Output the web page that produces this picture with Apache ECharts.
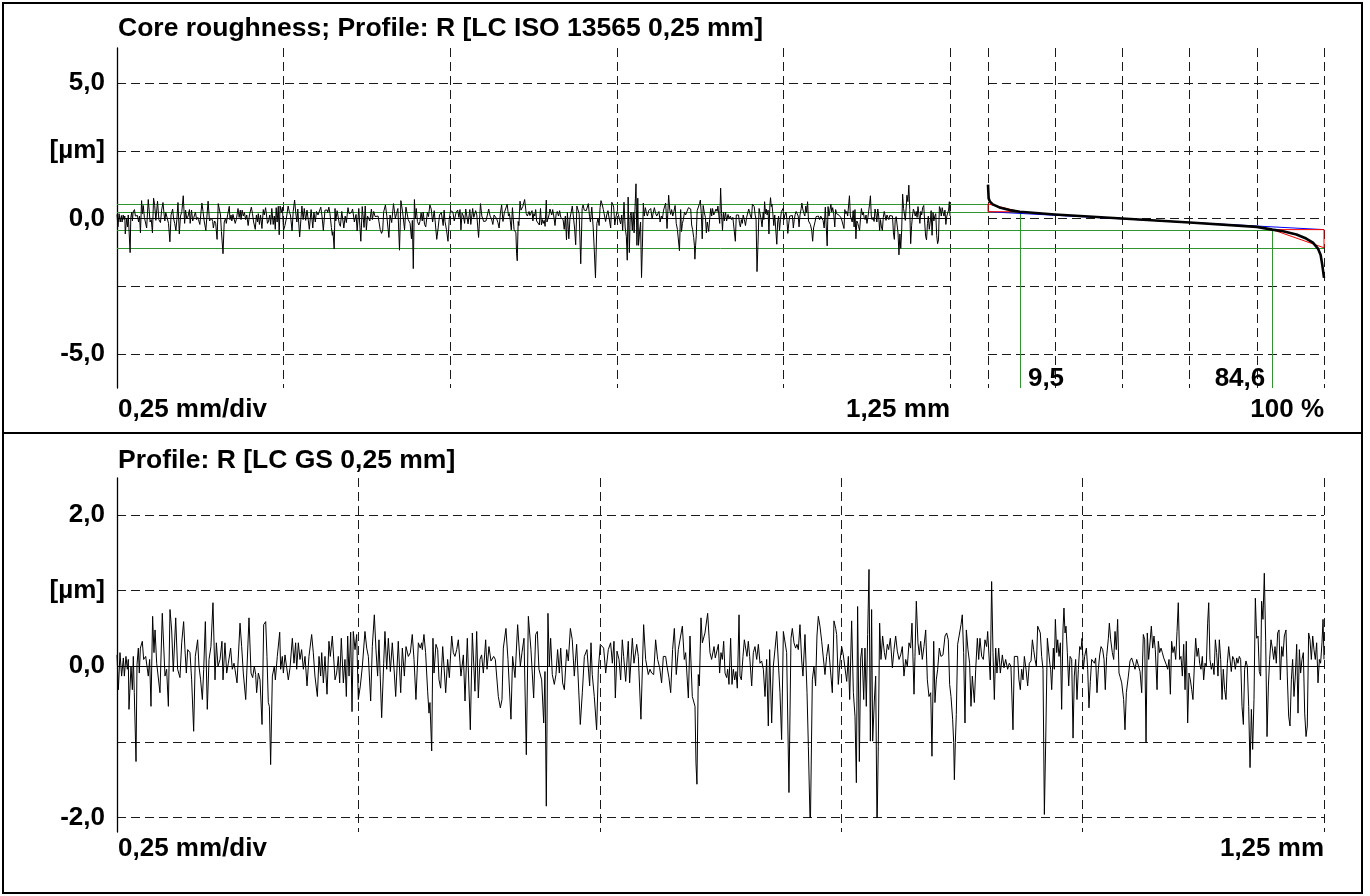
<!DOCTYPE html>
<html>
<head>
<meta charset="utf-8">
<script src="https://cdn.jsdelivr.net/npm/echarts@6/dist/echarts.min.js"></script>
<style>
  html, body { margin: 0; padding: 0; background: #fff; }
  #chart { width: 1370px; height: 896px; }
</style>
</head>
<body>
<div id="chart"></div>
<script>
// Roughness profile R: [position along trace in µm, height in µm], four consecutive stretches
const profileSeg1 = [[0,0.15],[1.4,-0.31],[3.1,0.18],[4.8,-0.13],[6.6,0.11],[7.6,-0.13],[9.3,0.13],[10.7,-0.04],[11.7,0.09],[12.4,-0.57],[14.5,0],[15.9,-0.31],[16.9,0.13],[17.9,-0.35],[19.7,-1.26],[20.7,0.02],[22.1,0.24],[23.1,-0.09],[24.2,0.24],[26.2,0.33],[27.6,0.09],[29.7,0.13],[30.7,0.11],[32.4,-0.13],[33.8,0.09],[35.2,-0.53],[36.9,0.66],[38.3,0.18],[39.4,0.48],[41.1,0.04],[44.5,-0.35],[46.9,0.70],[49.7,-0.13],[51.4,-0.04],[53.2,-0.53],[54.9,0.75],[56.6,0.48],[58.3,-0.07],[60.8,0.64],[62.8,-0.04],[65.2,-0.15],[67.0,0.31],[69.0,0.59],[70.4,0.22],[71.8,-0.09],[73.2,0.22],[75.6,0.18],[77.3,-0.18],[79.4,-0.86],[81.1,0.13],[83.5,0.35],[84.9,0],[86.6,-0.18],[88.4,-0.44],[89.8,-0.04],[91.5,0.59],[93.5,-0.57],[95.3,0.09],[97.3,0.26],[99.4,0.84],[101.5,-0.18],[102.9,0.31],[104.6,0],[106.7,0.09],[108.7,0.33],[109.8,-0.18],[111.8,0.31],[113.6,-0.09],[115.3,0.04],[117.7,0.24],[119.4,-0.04],[121.2,0.04],[122.2,-0.04],[124.3,-0.22],[125.7,-0.24],[127.4,0.57],[129.1,0.26],[130.8,-0.09],[133.3,-0.44],[136.7,0.64],[138.8,-0.09],[140.5,-0.15],[142.2,0],[143.6,-0.11],[144.6,-0.35],[146.4,-0.09],[148.1,-0.18],[150.2,-0.77],[151.9,0.55],[154.0,0.59],[155.3,0.13],[156.7,-0.48],[157.8,-0.53],[159.1,-1.30],[160.9,-0.13],[162.9,0],[164.0,-0.18],[166.0,0.13],[168.5,0.45],[169.5,-0.04],[171.2,0.13],[172.3,-0.09],[174.0,0.15],[175.7,0.13],[177.4,-0.18],[179.2,-0.02],[181.6,0.37],[183.3,0.04],[185.0,0.31],[186.1,-0.04],[187.8,0.31],[189.5,0.09],[191.2,0.22],[193.0,-0.04],[194.7,0.13],[196.8,-0.26],[198.8,0.13],[201.6,0.42],[203.3,0.18],[205.0,-0.13],[207.5,-0.40],[209.2,0.13],[210.9,-0.13],[212.0,0.18],[213.7,-0.22],[215.4,0.13],[217.5,-0.37],[219.5,0.33],[220.9,0.13],[223.0,0.40],[225.8,-0.18],[227.5,-0.09],[229.2,0.13],[230.6,-0.22],[232.3,0.37],[234.4,-0.22],[236.1,0.09],[237.5,-0.40],[238.9,0.40],[240.3,-0.13],[242.0,0.45],[243.4,-0.60],[244.7,0.46],[246.5,0.22],[248.2,0.42],[249.9,-0.44],[252.0,-0.26],[254.1,0],[256.8,0.46],[258.6,0.24],[260.3,0.13],[262.7,-0.46],[264.4,0.26],[266.5,0.68],[268.2,0.22],[269.9,-0.13],[271.3,0.35],[274.1,-0.68],[276.2,0.04],[277.5,0.46],[279.3,-0.04],[281.0,0.37],[283.1,-0.07],[285.1,0.31],[287.2,-0.09],[288.6,-0.40],[291.3,0.33],[293.8,-0.35],[295.5,0.24],[297.6,-0.13],[299.3,0.26],[301.7,0.13],[303.8,0.18],[305.8,0.42],[307.6,0.09],[309.6,-0.44],[312.1,0.31]];
const profileSeg2 = [[314.1,0.24],[315.5,0.31],[316.2,0.22],[317.9,0.42],[319.6,0.18],[321.7,-0.33],[323.1,-0.62],[324.1,-0.48],[325.9,-1.12],[327.2,0.37],[328.3,-0.09],[330.3,0.29],[332.1,0.22],[333.5,-0.18],[335.2,-0.29],[337.3,0.26],[340.4,-0.35],[342.4,0.09],[344.2,-0.15],[346.6,0.40],[348.3,0.18],[350.0,0.13],[351.8,0.22],[353.5,0.35],[356.2,-0.13],[358.7,0.15],[360.4,-0.46],[362.8,0.37],[365.9,-0.84],[368.0,0.44],[370.7,-0.33],[372.5,0.46],[374.2,-0.42],[375.9,0.09],[377.6,0.15],[379.4,-0.09],[381.8,0.35],[383.2,-0.04],[385.2,0.26],[387.3,0.07],[390.1,0.13],[391.8,0.09],[394.9,-0.40],[397.0,-0.55],[398.7,-0.44],[400.1,0.24],[402.8,0.50],[404.9,0.09],[408.0,-0.70],[409.7,0.13],[412.2,-0.15],[414.9,0.55],[417.7,0],[419.4,0.18],[421.5,0.37],[423.9,-1.17],[426.0,0.66],[428.7,0.22],[431.5,-0.42],[433.6,0.42],[435.3,0.46],[437.0,-0.04],[439.8,-0.18],[441.9,-0.75],[443.2,-0.07],[444.6,-1.85],[446.3,0.70],[447.7,0],[449.1,0.37],[450.8,-0.11],[452.9,-0.24],[454.6,-0.11],[456.3,0.22],[458.1,-0.09],[459.5,0.24],[461.5,-0.22],[463.3,-0.31],[465.7,0.22],[467.4,0.07],[469.5,0.50],[471.5,0.35],[473.6,-0.13],[476.0,0.29],[479.8,-0.77],[481.9,-0.35],[484.0,0.13],[486.7,0.22],[489.5,-0.26],[490.9,0.31],[492.2,-0.11],[494.3,-0.40],[496.7,-0.84],[498.5,-0.04],[500.5,0.29],[504.0,0.24],[506.1,-0.09],[508.8,0.22],[511.2,0.31],[513.0,0.04],[514.7,0.33],[516.1,-0.42],[517.8,0.20],[519.9,0.09],[521.6,-0.18],[523.3,0.35],[524.7,0.13],[526.8,-0.20],[529.5,0.33],[530.9,-0.22],[533.7,0.37],[535.4,0.04],[538.2,0.29],[539.9,0.13],[542.6,-0.70],[545.4,0.55],[547.5,0.09],[550.2,-0.11],[552.0,-0.04],[553.7,-0.09],[555.8,-0.11],[557.8,0.35],[559.9,0.09],[562.0,-0.02],[564.0,-0.22],[565.8,0.13],[568.2,0.13],[569.6,0],[571.6,-0.15],[573.4,-0.35],[575.4,0.22],[577.2,0.50],[579.2,-0.11],[581.3,0.22],[583.0,0.22],[585.5,0.53],[587.5,0.09],[588.9,0.18],[591.7,-0.42],[593.4,0.40],[595.8,-0.40],[598.6,-0.53],[599.6,-1.28],[600.6,-1.56],[602.0,-0.11],[603.1,-0.26],[604.8,0.64],[606.2,0.31],[608.9,0.44],[611.7,0.70],[614.1,0.18],[615.8,0.09],[618.3,0.26],[619.6,0.11]];
const profileSeg3 = [[622.8,0.29],[624.1,-0.09],[625.5,0.18],[626.9,0.09],[628.3,0.33],[629.7,-0.09],[631.4,-0.15],[632.4,-0.04],[633.8,-0.24],[635.5,0.37],[636.9,-0.24],[638.3,-0.04],[639.7,-0.18],[641.0,-0.07],[642.4,-0.29],[644.2,0.68],[645.2,-0.13],[646.6,-0.18],[648.3,0.13],[649.7,0.35],[651.1,0.33],[652.4,0.13],[653.8,0.33],[655.2,0.13],[657.3,-0.26],[659.0,0.18],[660.7,0.26],[662.5,0.09],[664.2,0.29],[665.9,0.04],[667.6,0.07],[669.4,-0.04],[671.1,-0.40],[672.8,0.09],[674.5,-0.79],[675.9,0.22],[678.0,-0.75],[679.7,0],[681.4,0.22],[683.2,0.46],[684.9,0.44],[686.6,-0.35],[688.3,-0.97],[690.1,0.46],[691.8,0.44],[693.5,0.18],[695.9,-1.67],[698.0,0.37],[699.4,0.50],[701.1,0.31],[702.8,0.24],[704.2,0.29],[705.6,0.22],[707.3,0.55],[709.1,0.07],[710.4,-0.13],[712.5,0.42],[714.6,-0.35],[716.0,-1.06],[718.0,-2.19],[720.1,-0.18],[721.8,0],[723.5,-0.26],[724.9,0.40],[726.3,0.66],[728.0,0.53],[729.8,0.33],[731.5,0.31],[733.2,-0.11],[734.9,0.13],[736.7,0.29],[738.4,0.31],[740.8,-0.35],[742.5,0.60],[744.3,0.50],[745.3,0.42],[747.0,-0.24],[748.8,0.07],[750.5,0.26],[752.2,0.15],[753.9,-0.02],[755.7,-0.20],[757.4,0.13],[758.8,-0.44],[760.8,0.60],[762.6,-0.35],[764.3,-0.66],[765.7,-1.54],[767.0,0.79],[768.8,-1.26],[770.2,0.11],[771.5,0.24],[773.3,-0.44],[774.6,0.24],[776.0,-0.53],[777.4,0.42],[778.8,1.28],[780.2,-0.99],[781.5,0.75],[782.6,-0.99],[784.3,-0.46],[785.7,-0.13],[787.1,-2.18],[788.4,-1.06],[789.8,0.57],[791.2,0.09],[792.9,0.40],[794.7,0.18],[796.0,0.09],[797.8,0.29],[799.1,0.22],[800.9,0.37],[803.0,-0.02],[804.7,0.22],[806.4,0.40],[808.1,0.20],[809.9,0.09],[811.6,0.15],[813.3,0.26],[815.0,-0.13],[816.8,0.09],[818.5,0],[820.2,0.31],[821.9,0.24],[823.3,0.57],[825.4,-0.37],[826.4,0.13],[827.8,0.86],[829.5,0.31],[830.9,0.15],[832.3,0.33],[834.0,0.09],[835.7,0.26],[837.5,0.48],[839.2,-0.18],[840.9,-0.40],[842.7,-0.35],[844.0,-1.19],[845.8,0.33],[847.1,-0.48],[848.5,-0.18],[849.9,-0.04],[851.6,0.24],[853.3,0.13],[855.4,0.15],[857.5,0.40],[859.2,0.44],[860.9,0.35],[862.3,-0.24],[863.7,-0.40],[865.4,-0.70],[866.5,-1.01],[867.2,-1.50],[868.2,-1.01],[869.2,-0.64],[870.6,0.29],[872.3,0.31],[874.1,0.55],[875.4,0.68],[876.8,0.18],[878.2,-0.75],[879.6,0.48],[881.3,0.22],[883.0,0.04],[884.4,-0.53],[885.8,-0.13],[887.9,-0.48],[889.3,-0.04],[891.0,0.37],[892.4,0.09],[893.7,0.37],[895.5,0.13],[897.2,0.09],[898.9,0.35],[900.6,0.26],[901.7,0.46],[903.1,0.44],[904.4,-0.18],[905.8,1.12],[907.2,0.18],[908.6,-0.44],[910.0,0.24],[911.3,-0.09],[913.1,0.24],[914.8,-0.09],[916.9,0.15],[918.6,-0.02],[920.3,0.09],[922.4,-0.04],[924.1,0.04],[925.8,0],[927.9,-0.84],[929.3,0.13],[931.0,0.15],[932.7,0.13],[934.1,-0.18]];
const profileSeg4 = [[935.5,-0.31],[936.9,-0.04],[938.3,-0.18],[939.7,0.13],[941.4,-0.04],[943.1,-0.26],[944.8,0.04],[946.6,0.07],[948.0,0.35],[949.3,0.22],[950.7,0.09],[952.1,0],[953.5,0.53],[954.9,0.55],[956.2,0.44],[957.6,0.13],[959.0,-0.04],[960.4,-1.96],[961.8,-0.99],[963.5,0.37],[964.9,0.35],[966.2,0.02],[966.9,-0.04],[968.0,-0.31],[969.7,0.24],[970.7,-0.04],[971.8,0.62],[973.2,0.18],[974.2,0.35],[975.6,0.13],[977.0,0.31],[978.3,-0.57],[979.7,0.48],[980.7,0.77],[981.8,0.44],[982.8,0.53],[984.2,0.18],[985.6,-0.26],[987.0,0.13],[988.7,0.09],[990.1,-0.95],[991.4,-0.13],[992.8,0.09],[994.2,-0.44],[995.6,-0.04],[997.0,0.26],[998.4,0.22],[999.4,0.37],[1000.8,-0.04],[1002.1,0.13],[1003.9,0.24],[1005.3,-0.04],[1006.6,-0.55],[1008.0,-0.20],[1009.4,0.09],[1010.8,0.09],[1012.2,0.04],[1013.5,0.11],[1014.9,-0.35],[1016.3,-0.04],[1017.7,0.15],[1019.1,0.26],[1020.8,0.22],[1022.2,0.09],[1023.5,-0.31],[1024.9,0.13],[1026.7,0.37],[1027.7,0.57],[1029.1,0.35],[1030.8,0.18],[1032.2,0.09],[1033.6,0.46],[1034.9,0.22],[1036.3,0.62],[1037.7,-0.09],[1039.1,-0.15],[1040.5,-0.22],[1042.5,-0.44],[1043.9,-0.84],[1045.3,-0.35],[1047.4,-0.13],[1049.1,0.07],[1050.8,0.11],[1052.5,0.09],[1054.3,-0.04],[1056.0,0.09],[1057.7,0.11],[1059.5,-0.07],[1061.2,-0.35],[1062.9,0.42],[1064.3,0.35],[1065.7,-1.01],[1067.0,0.44],[1068.4,0.09],[1069.8,0.31],[1071.2,0.53],[1072.6,0.24],[1073.9,0.40],[1075.3,0.22],[1077.1,-0.31],[1078.4,0.33],[1079.8,0.18],[1081.2,0.24],[1082.6,0.18],[1084.0,0.11],[1085.3,0.09],[1086.7,0.02],[1088.1,-0.04],[1089.5,0.09],[1090.9,-0.37],[1092.2,0.33],[1093.6,0.18],[1095.0,0.26],[1096.4,0.09],[1097.8,0.46],[1099.1,0.84],[1100.5,0.09],[1101.9,0.13],[1103.3,-0.13],[1104.7,0.29],[1106.1,-0.31],[1107.4,0.33],[1108.8,-0.75],[1110.2,-0.09],[1111.6,-0.18],[1113.0,-0.31],[1114.3,-0.44],[1115.7,0],[1117.1,0.37],[1118.5,0.13],[1119.9,0.24],[1121.2,0.04],[1122.6,-0.04],[1124.0,0.13],[1125.4,-0.18],[1126.8,0.04],[1128.1,0],[1129.5,0.57],[1130.6,0.84],[1131.9,0.09],[1133.3,-0.04],[1134.7,0.04],[1136.1,-0.11],[1137.5,0.35],[1138.8,0.18],[1140.2,-0.13],[1141.6,0.35],[1143.0,0.09],[1144.4,-0.44],[1145.7,-0.04],[1147.1,-0.31],[1148.5,-0.44],[1149.9,0.04],[1151.3,0.26],[1152.7,0.26],[1154.0,-0.07],[1155.4,0.13],[1156.8,0.09],[1158.2,-0.04],[1159.6,0.11],[1160.9,0.04],[1162.3,0.13],[1163.7,0.09],[1165.1,-0.53],[1166.5,-0.77],[1167.8,-0.04],[1169.2,0.07],[1170.6,0],[1172.0,-0.53],[1173.4,-1.34],[1174.8,-0.57],[1176.1,-1.10],[1177.5,-0.44],[1178.9,0.90],[1180.3,0.37],[1181.7,0.40],[1183.0,-0.07],[1184.4,-0.13],[1185.4,0.86],[1186.8,0.62],[1188.2,1.23],[1189.6,0.33],[1191.0,-0.93],[1192.4,-0.26],[1193.7,0.09],[1195.1,0.35],[1196.5,0.24],[1197.9,0.09],[1199.3,0.26],[1200.6,0.04],[1202.0,0.44],[1203.4,0.48],[1204.8,-0.18],[1206.2,0.26],[1207.5,0.13],[1208.9,0.40],[1210.6,0.48],[1212.0,-0.13],[1213.4,-0.66],[1214.8,-0.79],[1216.2,-0.18],[1217.5,0.09],[1218.9,-0.40],[1220.3,-0.13],[1221.7,0.29],[1223.1,-0.62],[1224.5,0.22],[1225.8,-0.09],[1227.2,0.09],[1228.6,0.18],[1230.0,-0.62],[1231.4,-0.93],[1232.7,-0.79],[1234.1,0.44],[1235.5,0.35],[1236.9,0.09],[1238.3,0.40],[1239.6,0.22],[1241.0,0.09],[1242.4,0.31],[1243.8,-0.22],[1245.2,0.09],[1246.5,0.04],[1247.9,0.31],[1249.0,0.62],[1250,0.09]];

// Material ratio (Abbott-Firestone) curve: ratio in %, height in µm
const bearingRatio  = [0, 0.1, 0.2, 0.6, 1.4, 3.4, 6.4, 9.5, 19.9, 39.9, 60.0, 80.0, 84.6, 87.8, 91.8, 94.7, 96.7, 98.2, 99.0, 99.5, 100];
const bearingHeight = [1.25, 0.98, 0.74, 0.62, 0.52, 0.41, 0.31, 0.25, 0.15, 0.0, -0.15, -0.31, -0.41, -0.47, -0.59, -0.74, -0.89, -1.11, -1.35, -1.72, -2.19];

// Core roughness parameters (µm / %)
const peakTop = 0.54;      // upper limit of reduced peak triangle
const coreUpper = 0.25;    // upper core limit
const coreLower = -0.41;   // lower core limit
const valleyBottom = -1.08;// lower limit of reduced valley triangle
const mr1 = 9.5;
const mr2 = 84.6;

// Axis settings
const traceLength = 1.25;      // mm
const traceDiv = 0.25;         // mm/div
const topTicks = [-5, -2.5, 0, 2.5, 5];
const topTickLabels = ['-5,0', '', '0,0', '[µm]', '5,0'];
const botTicks = [-2, -1, 0, 1, 2];
const botTickLabels = ['-2,0', '', '0,0', '[µm]', '2,0'];
const titleTop = 'Core roughness; Profile: R [LC ISO 13565 0,25 mm]';
const titleBottom = 'Profile: R [LC GS 0,25 mm]';

const FONT_FAMILY = 'Liberation Sans';
const FONT_SIZE = 26;
const DASH = [9, 5];
const GREEN = '#2f962f';

const comma = (v, d) => v.toFixed(d).replace('.', ',');
const profile = [...profileSeg1, ...profileSeg2, ...profileSeg3, ...profileSeg4]
  .map(p => [p[0] / 1000, p[1]]);
const bearing = bearingRatio.map((r, i) => [r, bearingHeight[i]]);

const chart = echarts.init(document.getElementById('chart'), null, { renderer: 'canvas' });

const dashedSplit = { show: true, lineStyle: { color: '#1a1a1a', width: 1, type: DASH } };
const labelFont = { fontFamily: FONT_FAMILY, fontWeight: 'bold', fontSize: FONT_SIZE, color: '#000' };

function labelFormatter(ticks, labels) {
  return v => {
    const i = ticks.findIndex(t => Math.abs(t - v) < 1e-6);
    return i >= 0 ? labels[i] : '';
  };
}

const hiddenX = (max, interval) => ({ type: 'value', min: 0, max, interval, show: false });
const frameX = (gridIndex, max, interval) => ({
  type: 'value', gridIndex, min: 0, max, interval,
  axisLine: { show: false }, axisTick: { show: false }, axisLabel: { show: false },
  splitLine: dashedSplit
});

const meanLine = {
  silent: true, symbol: ['none', 'none'], label: { show: false },
  lineStyle: { color: '#000', width: 1, type: 'solid' },
  data: [{ yAxis: 0 }], animation: false
};

const option = {
  animation: false,
  backgroundColor: '#fff',
  grid: [
    { left: 117, top: 83,  width: 833,  height: 271,   containLabel: false, outerBoundsMode: 'none' }, // 0 profile (top)
    { left: 117, top: 48,  width: 833,  height: 340,   containLabel: false, outerBoundsMode: 'none' }, // 1 profile frame (top)
    { left: 988, top: 83,  width: 336,  height: 271,   containLabel: false, outerBoundsMode: 'none' }, // 2 material ratio
    { left: 988, top: 48,  width: 336,  height: 340,   containLabel: false, outerBoundsMode: 'none' }, // 3 material ratio frame
    { left: 117, top: 515, width: 1207, height: 302.5, containLabel: false, outerBoundsMode: 'none' }, // 4 profile (bottom)
    { left: 117, top: 478, width: 1207, height: 354,   containLabel: false, outerBoundsMode: 'none' }  // 5 profile frame (bottom)
  ],
  xAxis: [
    Object.assign(hiddenX(traceLength, traceDiv), { gridIndex: 0 }),
    frameX(1, traceLength, traceDiv),
    Object.assign(hiddenX(100, 20), { gridIndex: 2 }),
    frameX(3, 100, 20),
    Object.assign(hiddenX(traceLength, traceDiv), { gridIndex: 4 }),
    frameX(5, traceLength, traceDiv)
  ],
  yAxis: [
    { type: 'value', gridIndex: 0, min: -5, max: 5, interval: 2.5,
      axisLine: { show: false }, axisTick: { show: false },
      axisLabel: Object.assign({ margin: 12, showMinLabel: true, showMaxLabel: true,
        formatter: labelFormatter(topTicks, topTickLabels) }, labelFont),
      splitLine: dashedSplit },
    { type: 'value', gridIndex: 1, min: -6.25, max: 6.25,
      axisLine: { show: true, onZero: false, lineStyle: { color: '#000', width: 1.3 } },
      axisTick: { show: false }, axisLabel: { show: false }, splitLine: { show: false } },
    { type: 'value', gridIndex: 2, min: -5, max: 5, interval: 2.5,
      axisLine: { show: false }, axisTick: { show: false }, axisLabel: { show: false },
      splitLine: dashedSplit },
    { type: 'value', gridIndex: 3, min: -6.25, max: 6.25, show: false },
    { type: 'value', gridIndex: 4, min: -2, max: 2, interval: 1,
      axisLine: { show: false }, axisTick: { show: false },
      axisLabel: Object.assign({ margin: 12, showMinLabel: true, showMaxLabel: true,
        formatter: labelFormatter(botTicks, botTickLabels) }, labelFont),
      splitLine: dashedSplit },
    { type: 'value', gridIndex: 5, min: -2.2, max: 2.5,
      axisLine: { show: true, onZero: false, lineStyle: { color: '#000', width: 1.3 } },
      axisTick: { show: false }, axisLabel: { show: false }, splitLine: { show: false } }
  ],
  series: [
    { name: 'profileTop', type: 'line', xAxisIndex: 0, yAxisIndex: 0, data: profile,
      showSymbol: false, symbol: 'none', z: 5,
      lineStyle: { color: '#000', width: 1 }, markLine: meanLine },
    { name: 'profileBottom', type: 'line', xAxisIndex: 4, yAxisIndex: 4, data: profile,
      showSymbol: false, symbol: 'none', z: 5, clip: true,
      lineStyle: { color: '#000', width: 1 }, markLine: meanLine },
    { name: 'coreLine', type: 'line', xAxisIndex: 2, yAxisIndex: 2,
      data: [[0, coreUpper], [100, coreLower]], showSymbol: false, symbol: 'none', z: 4,
      lineStyle: { color: '#0000ff', width: 1 } },
    { name: 'peakTriangle', type: 'line', xAxisIndex: 2, yAxisIndex: 2,
      data: [[0, peakTop], [mr1, coreUpper], [0, coreUpper], [0, peakTop]],
      showSymbol: false, symbol: 'none', z: 4, lineStyle: { color: '#ff0000', width: 1 } },
    { name: 'valleyTriangle', type: 'line', xAxisIndex: 2, yAxisIndex: 2,
      data: [[mr2, coreLower], [100, valleyBottom], [100, coreLower], [mr2, coreLower]],
      showSymbol: false, symbol: 'none', z: 4, lineStyle: { color: '#ff0000', width: 1 } },
    { name: 'materialRatio', type: 'line', xAxisIndex: 2, yAxisIndex: 2, data: bearing,
      showSymbol: false, symbol: 'none', z: 6,
      lineStyle: { color: '#000', width: 2.6, join: 'round' } }
  ]
};

chart.setOption(option);

// Limit lines, annotations and frame placed through the chart's own axes
const px = (axis, v) => chart.convertToPixel({ xAxisIndex: axis }, v);
const py = (axis, v) => chart.convertToPixel({ yAxisIndex: axis }, v);
const crisp = v => Math.round(v) + 0.5;

function hLine(x1, x2, y, color) {
  return { type: 'line', z: 1, silent: true,
    shape: { x1, y1: crisp(y), x2, y2: crisp(y) },
    style: { stroke: color, lineWidth: 1 } };
}
function vLine(x, y1, y2, color) {
  return { type: 'line', z: 1, silent: true,
    shape: { x1: crisp(x), y1, x2: crisp(x), y2 },
    style: { stroke: color, lineWidth: 1 } };
}
function text(str, x, y, align, size) {
  return { type: 'text', z: 10, silent: true, x, y,
    style: { text: str, fill: '#000',
      font: 'bold ' + (size || FONT_SIZE) + 'px "' + FONT_FAMILY + '"',
      align, verticalAlign: 'middle', textAlign: align, textVerticalAlign: 'middle' } };
}

const xLeft = px(1, 0);
const xRatio0 = px(3, 0);
const xMr1 = px(3, mr1);
const xMr2 = px(3, mr2);
const xRatio100 = px(3, 100);
const xTraceEnd = px(1, traceLength);
const yFrameBottom = py(3, -6.25);
const yFrameTop = py(3, 6.25);
const yBotFrameBottom = py(5, -2.2);

const elements = [
  // limit lines across profile and material ratio chart
  hLine(xLeft, xRatio0, py(0, peakTop), GREEN),
  hLine(xLeft, xMr1, py(0, coreUpper), GREEN),
  hLine(xLeft, xMr2, py(0, coreLower), GREEN),
  hLine(xLeft, xRatio100, py(0, valleyBottom), GREEN),
  vLine(xMr1, py(2, coreUpper), yFrameBottom, GREEN),
  vLine(xMr2, py(2, coreLower), yFrameBottom, GREEN),
  // material ratio values
  text(comma(mr1, 1), xMr1 + 8, yFrameBottom - 9, 'left'),
  text(comma(mr2, 1), xMr2 - 7, yFrameBottom - 9, 'right'),
  // axis captions
  text(comma(traceDiv, 2) + ' mm/div', xLeft + 1, yFrameBottom + 22, 'left'),
  text(comma(traceLength, 2) + ' mm', xTraceEnd, yFrameBottom + 22, 'right'),
  text('100 %', xRatio100, yFrameBottom + 22, 'right'),
  text(titleTop, xLeft + 1, yFrameTop - 19, 'left', 26.5),
  text(titleBottom, xLeft + 1, py(5, 2.5) - 17, 'left', 26.5),
  text(comma(traceDiv, 2) + ' mm/div', xLeft + 1, yBotFrameBottom + 17, 'left'),
  text(comma(traceLength, 2) + ' mm', px(5, traceLength), yBotFrameBottom + 17, 'right'),
  // outer frame and panel separator
  { type: 'rect', z: 20, silent: true,
    shape: { x: 3, y: 3, width: 1359, height: 890 },
    style: { fill: 'none', stroke: '#000', lineWidth: 2 } },
  { type: 'line', z: 20, silent: true,
    shape: { x1: 3, y1: 433, x2: 1362, y2: 433 },
    style: { stroke: '#000', lineWidth: 2 } }
];

chart.setOption({ graphic: { elements } });
</script>
</body>
</html>
